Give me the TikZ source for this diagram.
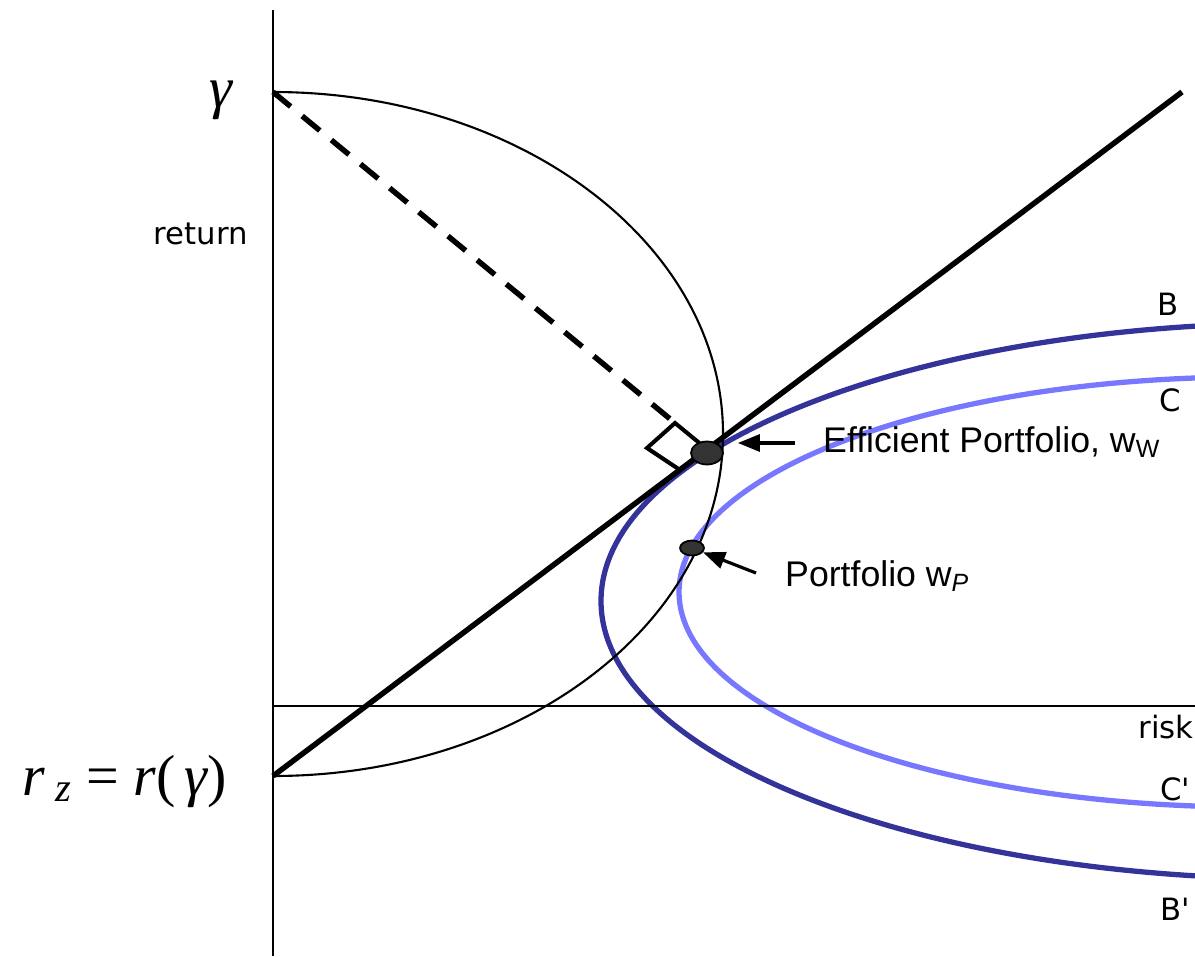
\documentclass[tikz,border=0pt]{standalone}
\usepackage{fontspec}
\setmainfont{DejaVu Sans}
\newfontfamily\arialfont{Liberation Sans}
\newfontfamily\timesfont{Liberation Serif}
\usetikzlibrary{shapes.geometric,arrows.meta}
\definecolor{bblue}{RGB}{51,51,153}
\definecolor{cblue}{RGB}{119,119,255}
\definecolor{dotgray}{RGB}{51,51,51}
\tikzset{
  axis/.style={line width=1.5pt},
  thinarc/.style={line width=1.2pt},
  heavy/.style={line width=3.1pt},
  frontier/.style={line width=3pt},
  dot/.style={ellipse, draw=black, line width=1pt, fill=dotgray, inner sep=0pt},
  arr/.style={-{Triangle[length=0.44cm, width=0.34cm]}, line width=1.8pt},
  lbl/.style={font=\fontsize{17.5}{20}\selectfont, anchor=base},
  plbl/.style={font=\arialfont\fontsize{20.3}{24}\selectfont, anchor=base west},
  mlbl/.style={font=\timesfont\itshape\fontsize{33}{38}\selectfont, anchor=base},
}

\begin{document}
\begin{tikzpicture}[x=0.02cm, y=-0.02cm]
  \useasboundingbox (0,0) rectangle (1195,956);

  \coordinate (gam) at (273,92);
  \coordinate (rz) at (273,776);
  \coordinate (tend) at (1182,92);
  \coordinate (foot) at (675,423);

  % ---- frontiers B and C ---------------------------------------------
  \begin{scope}
    \clip (0,0) rectangle (1195,956);
    \draw[frontier, bblue] (1301,601) ellipse [x radius=700, y radius=278];
    \draw[frontier, cblue] (1250,592) ellipse [x radius=571, y radius=215];
  \end{scope}

  % ---- axes and half ellipse -----------------------------------------
  \draw[axis] (273,10) -- (273,956);
  \draw[axis] (273,706) -- (1195,706);
  \draw[thinarc] (gam) arc [start angle=-90, end angle=90, x radius=450, y radius=342];

  % ---- tangent, perpendicular and right angle ------------------------
  \draw[heavy] (rz) -- (tend);
  \draw[heavy, dash pattern=on 13pt off 8.5pt] (gam) -- (foot);
  \draw[line width=2.3pt] (680,470) -- (647,448) -- (foot) -- (703,446);

  % ---- portfolios ----------------------------------------------------
  \node[dot, minimum width=0.64cm, minimum height=0.46cm] (effdot) at (707,453) {};
  \node[dot, minimum width=0.48cm, minimum height=0.30cm] (portdot) at (692,548) {};
  \coordinate (efftail) at (795,443);
  \coordinate (porttail) at (756,573);
  \draw[arr, shorten >=0.28cm] (efftail) -- (effdot.east |- efftail);
  \draw[arr] (porttail) -- (portdot);

  % ---- labels --------------------------------------------------------
  \node[mlbl] (gamlbl) at (221,108) {γ};
  \node[mlbl] (rzlbl) at (125,795) {r\,\textsubscript{z} {\upshape =} r{\upshape (}\,γ{\upshape )}};
  \node[lbl] (retlbl) at (201,244) {return};
  \node[lbl] (risklbl) at (1166,738) {risk};
  \node[lbl] (blbl) at (1168,315) {B};
  \node[lbl] (clbl) at (1170,411) {C};
  \node[lbl] (cplbl) at (1175,800) {C\textquotesingle};
  \node[lbl] (bplbl) at (1175,920) {B\textquotesingle};
  \node[plbl] (efflbl) at (817,452) {Efficient Portfolio, w\textsubscript{W}};
  \node[plbl] (portlbl) at (779,586) {Portfolio w\textsubscript{\itshape P}};
\end{tikzpicture}
\end{document}
